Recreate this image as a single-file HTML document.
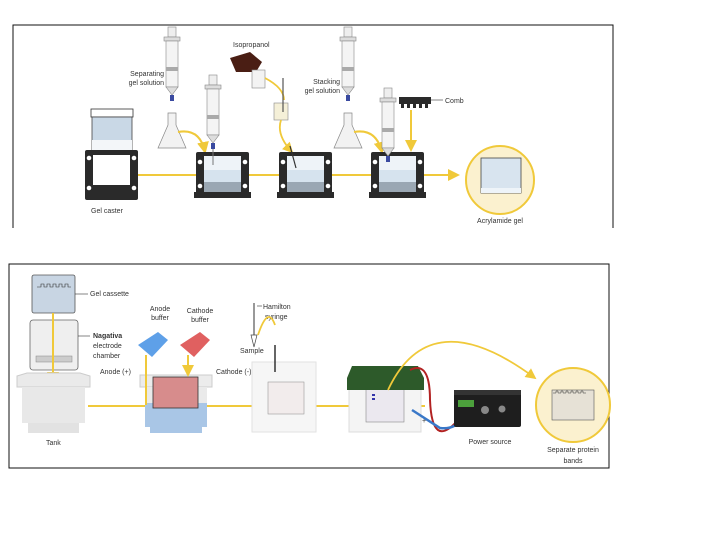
<!DOCTYPE html>
<html><head><meta charset="utf-8"><style>
html,body{margin:0;padding:0;background:#fff}
svg{display:block}
text{font-family:"Liberation Sans",sans-serif;font-size:7px;fill:#333}
</style></head><body>
<svg width="720" height="540" viewBox="0 0 720 540" xmlns="http://www.w3.org/2000/svg">
<defs>
<marker id="ah" markerWidth="6" markerHeight="6" refX="5" refY="3" orient="auto"><path d="M0,0 L6,3 L0,6 z" fill="#f0c93a"/></marker>
<g id="caster">
 <rect x="0" y="0" width="53" height="46" fill="#2a2a2a" rx="2"/>
 <rect x="8" y="4" width="37" height="36" fill="#d6e3ee"/>
 <rect x="8" y="4" width="37" height="14" fill="#eef3f8"/>
 <rect x="8" y="30" width="37" height="10" fill="#9aa7b3"/>
 <circle cx="4" cy="10" r="2.3" fill="#fff"/><circle cx="49" cy="10" r="2.3" fill="#fff"/>
 <circle cx="4" cy="34" r="2.3" fill="#fff"/><circle cx="49" cy="34" r="2.3" fill="#fff"/>
 <rect x="-2" y="40" width="57" height="6" fill="#2a2a2a"/>
</g>
<g id="syr">
 <rect x="4" y="0" width="8" height="10" fill="#eee" stroke="#888" stroke-width="0.6"/>
 <rect x="0" y="10" width="16" height="4" fill="#ddd" stroke="#888" stroke-width="0.6"/>
 <rect x="2" y="14" width="12" height="46" fill="#f4f4f4" stroke="#888" stroke-width="0.6"/>
 <rect x="2" y="40" width="12" height="4" fill="#aaa"/>
 <path d="M2,60 L8,68 L14,60z" fill="#ddd" stroke="#888" stroke-width="0.6"/>
 <rect x="6" y="68" width="4" height="6" fill="#3a4aa0"/>
</g>
<g id="flask">
 <path d="M10,0 L18,0 L18,12 L28,35 L0,35 L10,12z" fill="#f2f2f2" stroke="#888" stroke-width="0.7"/>
</g>
</defs>

<!-- TOP PANEL -->
<path d="M13,228 L13,25 L613,25 L613,228" fill="none" stroke="#111" stroke-width="1"/>
<line x1="138" y1="175" x2="458" y2="175" stroke="#f0c93a" stroke-width="2" marker-end="url(#ah)"/>
<!-- gel caster -->
<rect x="91" y="109" width="42" height="8" fill="#fff" stroke="#333" stroke-width="0.8"/>
<rect x="92" y="117" width="40" height="40" fill="#c9d8e6" stroke="#444" stroke-width="0.8"/>
<rect x="92" y="140" width="40" height="17" fill="#f3f6f9"/>
<rect x="85" y="150" width="53" height="50" fill="#2a2a2a" rx="2"/>
<rect x="93" y="155" width="37" height="30" fill="#fff"/>
<circle cx="89" cy="158" r="2.3" fill="#fff"/><circle cx="134" cy="158" r="2.3" fill="#fff"/>
<circle cx="89" cy="188" r="2.3" fill="#fff"/><circle cx="134" cy="188" r="2.3" fill="#fff"/>
<text x="91" y="213">Gel caster</text>

<use href="#syr" x="164" y="27"/>
<use href="#flask" x="158" y="113"/>
<text x="164" y="76" text-anchor="end">Separating</text>
<text x="164" y="85" text-anchor="end">gel solution</text>
<path d="M178,132 Q200,128 205,152" fill="none" stroke="#f0c93a" stroke-width="2" marker-end="url(#ah)"/>

<use href="#caster" x="196" y="152"/>
<use href="#syr" x="205" y="75"/>
<line x1="213" y1="149" x2="213" y2="165" stroke="#777" stroke-width="1"/>

<!-- isopropanol -->
<path d="M230,58 L250,52 L262,62 L256,72 L236,72z" fill="#4a1e14"/>
<rect x="252" y="70" width="13" height="18" fill="#f3f3f3" stroke="#888" stroke-width="0.6"/>
<text x="233" y="47">Isopropanol</text>
<path d="M265,78 Q284,88 284,100" fill="none" stroke="#f0c93a" stroke-width="1.8"/>
<rect x="274" y="103" width="14" height="17" fill="#f5f0d8" stroke="#888" stroke-width="0.6"/>
<line x1="283" y1="78" x2="283" y2="112" stroke="#555" stroke-width="1.2"/>
<path d="M281,120 Q276,135 292,152" fill="none" stroke="#f0c93a" stroke-width="1.8" marker-end="url(#ah)"/>

<use href="#caster" x="279" y="152"/>
<line x1="290" y1="146" x2="296" y2="168" stroke="#333" stroke-width="1.2"/>

<use href="#syr" x="340" y="27"/>
<use href="#flask" x="334" y="113"/>
<text x="340" y="84" text-anchor="end">Stacking</text>
<text x="340" y="93" text-anchor="end">gel solution</text>
<path d="M354,132 Q376,128 382,152" fill="none" stroke="#f0c93a" stroke-width="2" marker-end="url(#ah)"/>

<use href="#caster" x="371" y="152"/>
<use href="#syr" x="380" y="88"/>
<rect x="399" y="97" width="32" height="7" fill="#2a2a2a"/>
<g fill="#2a2a2a"><rect x="401" y="104" width="3" height="4"/><rect x="407" y="104" width="3" height="4"/><rect x="413" y="104" width="3" height="4"/><rect x="419" y="104" width="3" height="4"/><rect x="425" y="104" width="3" height="4"/></g>
<line x1="431" y1="100" x2="443" y2="100" stroke="#333" stroke-width="0.6"/>
<text x="445" y="103">Comb</text>
<line x1="411" y1="110" x2="411" y2="150" stroke="#f0c93a" stroke-width="2" marker-end="url(#ah)"/>

<circle cx="500" cy="180" r="34" fill="#fbf1cf" stroke="#f0c93a" stroke-width="2"/>
<rect x="481" y="158" width="40" height="35" fill="#d8e4ef" stroke="#444" stroke-width="0.8"/>
<rect x="481" y="188" width="40" height="5" fill="#eef4f9"/>
<text x="500" y="223" text-anchor="middle">Acrylamide gel</text>

<!-- BOTTOM PANEL -->
<rect x="9" y="264" width="600" height="204" fill="none" stroke="#111" stroke-width="1"/>
<line x1="88" y1="406" x2="425" y2="406" stroke="#f0c93a" stroke-width="2"/>
<line x1="270" y1="406" x2="292" y2="406" stroke="#f0c93a" stroke-width="2" marker-end="url(#ah)"/>

<!-- cassette -->
<rect x="32" y="275" width="43" height="38" fill="#c8d5e3" stroke="#555" stroke-width="0.8" rx="2"/>
<path d="M37,287 h4 v-3 h3 v3 h3 v-3 h3 v3 h3 v-3 h3 v3 h3 v-3 h3 v3 h3 v-3 h3 v3 h3" fill="none" stroke="#333" stroke-width="0.6"/>
<line x1="75" y1="294" x2="88" y2="294" stroke="#333" stroke-width="0.6"/>
<text x="90" y="296">Gel cassette</text>
<!-- chamber -->
<rect x="30" y="320" width="48" height="50" fill="#efefef" stroke="#666" stroke-width="0.8" rx="3"/>
<rect x="36" y="356" width="36" height="6" fill="#ccc" stroke="#888" stroke-width="0.5"/>
<line x1="78" y1="336" x2="90" y2="336" stroke="#333" stroke-width="0.6"/>
<text x="93" y="338" font-weight="bold">Nagativa</text>
<text x="93" y="348">electrode</text>
<text x="93" y="358">chamber</text>
<line x1="53" y1="313" x2="53" y2="382" stroke="#f0c93a" stroke-width="2" marker-end="url(#ah)"/>
<!-- tank -->
<path d="M17,387 L90,387 L90,376 L80,373 L27,373 L17,376z" fill="#eaeaea" stroke="#ccc"/>
<rect x="22" y="387" width="63" height="36" fill="#e8e8e8"/>
<rect x="28" y="423" width="51" height="10" fill="#e2e2e2"/>
<text x="46" y="445">Tank</text>

<!-- tank 2 -->
<rect x="140" y="375" width="72" height="12" fill="#ececec" stroke="#ccc"/>
<rect x="145" y="387" width="62" height="37" fill="#eaeaea"/>
<rect x="145" y="403" width="62" height="24" fill="#a9c6e6"/>
<rect x="150" y="424" width="52" height="9" fill="#a9c6e6"/>
<rect x="153" y="377" width="45" height="31" fill="#d78c8c" stroke="#333" stroke-width="0.8"/>
<path d="M138,345 L158,332 L168,340 L152,357z" fill="#5ea0e8"/>
<path d="M180,345 L200,332 L210,340 L194,357z" fill="#e06060"/>
<text x="160" y="311" text-anchor="middle">Anode</text><text x="160" y="320" text-anchor="middle">buffer</text>
<text x="200" y="313" text-anchor="middle">Cathode</text><text x="200" y="322" text-anchor="middle">buffer</text>
<line x1="146" y1="355" x2="146" y2="405" stroke="#f0c93a" stroke-width="2"/>
<line x1="188" y1="355" x2="188" y2="375" stroke="#f0c93a" stroke-width="2" marker-end="url(#ah)"/>
<text x="100" y="374">Anode (+)</text>
<text x="216" y="374">Cathode (-)</text>

<!-- tank 3 -->
<rect x="252" y="362" width="64" height="70" fill="#f6f6f6" stroke="#e2e2e2"/>
<rect x="268" y="382" width="36" height="32" fill="#f2ecec" stroke="#999" stroke-width="0.6"/>
<line x1="254" y1="303" x2="254" y2="335" stroke="#333" stroke-width="1"/>
<path d="M251,335 L257,335 L254,347z" fill="#fff" stroke="#444" stroke-width="0.7"/>
<line x1="257" y1="306" x2="262" y2="306" stroke="#333" stroke-width="0.6"/>
<text x="263" y="309">Hamilton</text><text x="265" y="319">syringe</text>
<text x="240" y="353">Sample</text>
<path d="M258,335 Q268,305 275,325" fill="none" stroke="#f0c93a" stroke-width="1.8"/>
<line x1="275" y1="345" x2="275" y2="372" stroke="#333" stroke-width="1.5"/>

<!-- tank 4 -->
<rect x="349" y="388" width="72" height="44" fill="#f4f4f4" stroke="#ddd"/>
<rect x="366" y="388" width="38" height="34" fill="#ebe8ef" stroke="#888" stroke-width="0.6"/>
<path d="M347,378 L352,366 L418,366 L424,378 L424,390 L347,390z" fill="#2d5a2a"/>
<rect x="372" y="394" width="3" height="2" fill="#33a"/><rect x="372" y="398" width="3" height="2" fill="#33a"/>
<path d="M410,370 Q430,360 430,400 Q432,450 458,420" fill="none" stroke="#b22222" stroke-width="2"/>
<path d="M412,410 L440,428 Q455,430 462,418" fill="none" stroke="#3a78c8" stroke-width="2.5"/>
<text x="422" y="423" fill="#3a78c8">+</text>
<path d="M388,390 Q430,300 535,378" fill="none" stroke="#f0c93a" stroke-width="1.8" marker-end="url(#ah)"/>

<!-- power -->
<rect x="454" y="393" width="67" height="34" fill="#1e1e1e" rx="2"/>
<rect x="454" y="390" width="67" height="5" fill="#333"/>
<rect x="458" y="400" width="16" height="7" fill="#4ca03c"/>
<circle cx="485" cy="410" r="4" fill="#888"/><circle cx="502" cy="409" r="3.5" fill="#888"/>
<text x="490" y="444" text-anchor="middle">Power source</text>

<circle cx="573" cy="405" r="37" fill="#fbf1cf" stroke="#f0c93a" stroke-width="2"/>
<rect x="552" y="390" width="42" height="30" fill="#e6e1d6" stroke="#555" stroke-width="0.6"/>
<path d="M553,393 h3 v-2 h2 v2 h3 v-2 h2 v2 h3 v-2 h2 v2 h3 v-2 h2 v2 h3 v-2 h2 v2 h3 v-2 h2 v2 h3" fill="none" stroke="#333" stroke-width="0.5"/>
<text x="573" y="452" text-anchor="middle">Separate protein</text>
<text x="573" y="463" text-anchor="middle">bands</text>
</svg>
</body></html>
